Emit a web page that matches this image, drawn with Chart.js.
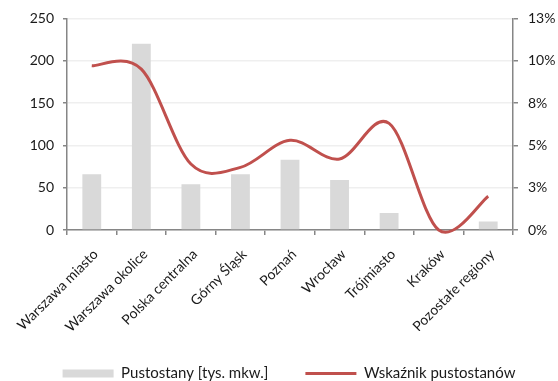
<!DOCTYPE html>
<html>
<head>
<meta charset="utf-8">
<script src="https://cdn.jsdelivr.net/npm/chart.js@4"></script>
<style>
  html, body { margin: 0; padding: 0; background: #fff; }
  #wrap { width: 558px; height: 381px; position: relative; }
</style>
</head>
<body>
<div id="wrap"><canvas id="chart"></canvas></div>
<script>
// Regions
const regions = ['Warszawa miasto', 'Warszawa okolice', 'Polska centralna', 'Górny Śląsk',
  'Poznań', 'Wrocław', 'Trójmiasto', 'Kraków', 'Pozostałe regiony'];
// Vacant space, thousand sq m
const vacantSpace = [66, 220, 54, 66, 83, 59, 20, 0, 10];
// Vacancy rate, %
const vacancyRate = [9.7, 9.5, 3.9, 3.7, 5.3, 4.2, 6.3, 0.0, 2.0];

const seriesNames = ['Pustostany [tys. mkw.]', 'Wskaźnik pustostanów'];

const FONT = 'Lato, "Noto Sans", sans-serif';
const TEXT = '#1a1a1a';
const AXIS = '#868686';
const GRID = '#efefef';

// Uniform Catmull-Rom smoothing for line datasets (control points at 1/6 of the neighbour span)
const catmullRom = {
  id: 'catmullRom',
  beforeDatasetDraw(chart, args) {
    const meta = args.meta;
    if (meta.type !== 'line') return;
    meta.dataset.updateControlPoints(chart.chartArea, meta.iScale.axis);
    const pts = meta.data;
    pts.forEach((p, i) => {
      const prev = pts[i - 1] || p;
      const next = pts[i + 1] || p;
      const dx = (next.x - prev.x) / 6;
      const dy = (next.y - prev.y) / 6;
      p.cp1x = p.x - dx; p.cp1y = p.y - dy;
      p.cp2x = p.x + dx; p.cp2y = p.y + dy;
    });
  }
};

// Small offset of the legend row relative to its layout box
const legendOffset = {
  id: 'legendOffset',
  afterLayout(chart, args, opts) {
    const lg = chart.legend;
    if (!lg) return;
    lg.left += opts.dx; lg.right += opts.dx;
    lg.top += opts.dy; lg.bottom += opts.dy;
  }
};

new Chart(document.getElementById('chart'), {
  plugins: [catmullRom, legendOffset],
  data: {
    labels: regions,
    datasets: [
      {
        type: 'line',
        label: seriesNames[1],
        data: vacancyRate,
        yAxisID: 'yRate',
        borderColor: '#c0504d',
        backgroundColor: '#c0504d',
        borderWidth: 3,
        pointRadius: 0,
        tension: 0.4,
        capBezierPoints: false,
        clip: 6,
        order: 0
      },
      {
        type: 'bar',
        label: seriesNames[0],
        data: vacantSpace,
        yAxisID: 'ySpace',
        backgroundColor: '#d9d9d9',
        borderWidth: 0,
        barPercentage: 0.38,
        categoryPercentage: 1,
        order: 1
      }
    ]
  },
  options: {
    responsive: true,
    maintainAspectRatio: false,
    animation: false,
    layout: { padding: { left: 0, right: 0, top: 7, bottom: -12 } },
    plugins: {
      tooltip: { enabled: false },
      legendOffset: { dx: 10, dy: -2 },
      legend: {
        position: 'bottom',
        reverse: true,
        labels: {
          font: { family: FONT, size: 15 },
          color: TEXT,
          usePointStyle: true,
          pointStyleWidth: 51,
          boxHeight: 8,
          padding: 37,
          generateLabels(chart) {
            const items = Chart.defaults.plugins.legend.labels.generateLabels(chart);
            items.forEach(it => {
              const ds = chart.data.datasets[it.datasetIndex];
              it.pointStyle = ds.type === 'line' ? 'line' : 'rect';
              if (ds.type === 'line') { it.lineWidth = 3; it.strokeStyle = '#c0504d'; }
              else { it.lineWidth = 0; }
            });
            return items;
          }
        }
      }
    },
    scales: {
      x: {
        offset: true,
        grid: { offset: true, drawOnChartArea: false, drawTicks: true, tickLength: 5, tickColor: AXIS, lineWidth: 1.5 },
        border: { color: AXIS, width: 1.5 },
        ticks: {
          font: { family: FONT, size: 14 },
          color: TEXT,
          minRotation: 45,
          maxRotation: 45,
          autoSkip: false,
          padding: 11,
          labelOffset: 4
        },
        afterFit(scale) { scale.height = 101; }
      },
      ySpace: {
        position: 'left',
        min: 0,
        max: 250,
        ticks: { stepSize: 50, font: { family: FONT, size: 14 }, color: TEXT, padding: 9 },
        grid: { color: GRID, lineWidth: 1.5, tickLength: 4, tickColor: AXIS, drawTicks: true },
        border: { color: AXIS, width: 1.5 },
        afterFit(scale) { scale.width = 67; }
      },
      yRate: {
        position: 'right',
        min: 0,
        max: 12.5,
        ticks: {
          stepSize: 2.5,
          font: { family: FONT, size: 14 },
          color: TEXT,
          padding: 10,
          callback: v => Math.round(v) + '%'
        },
        grid: { drawOnChartArea: false, tickLength: 5, tickColor: AXIS, lineWidth: 1.5 },
        border: { color: AXIS, width: 1.5 },
        afterFit(scale) { scale.width = 45; }
      }
    }
  }
});
</script>
</body>
</html>
